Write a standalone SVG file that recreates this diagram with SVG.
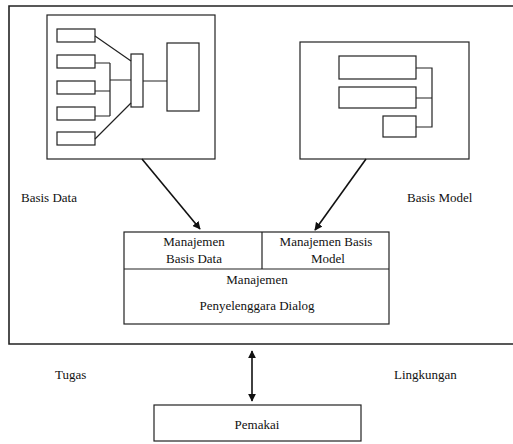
<svg xmlns="http://www.w3.org/2000/svg" width="513" height="444" viewBox="0 0 513 444">
  <style>
    .box { fill: #fff; stroke: #222; stroke-width: 1.2; }
    .ln { fill: none; stroke: #222; stroke-width: 1.2; }
    .frame { fill: none; stroke: #222; stroke-width: 1.6; }
    text { font-family: Liberation Serif, Tinos, Times New Roman, Times, serif; font-size: 13px; fill: #111; }
    .mid { text-anchor: middle; }
    .conn { fill: none; stroke: #111; stroke-width: 1.6; }
  </style>
  <defs>
    <marker id="arrow" viewBox="0 0 10 10" refX="9" refY="5" markerWidth="5" markerHeight="5" orient="auto-start-reverse" markerUnits="strokeWidth">
      <path d="M0,0 L10,5 L0,10 z" fill="#111"/>
    </marker>
  </defs>
  <rect width="513" height="444" fill="#fff"/>

  <!-- outer system frame (open to the right) -->
  <path class="frame" d="M513,6 H9 V344 H513"/>

  <!-- database component -->
  <g id="basis-data">
    <rect class="box" x="47" y="15" width="168" height="144"/>
    <rect class="box" x="57" y="29" width="38" height="13"/>
    <rect class="box" x="57" y="55" width="38" height="13"/>
    <rect class="box" x="57" y="81" width="38" height="13"/>
    <rect class="box" x="57" y="107" width="38" height="13"/>
    <rect class="box" x="57" y="132" width="38" height="13"/>
    <rect class="box" x="131" y="54" width="12" height="53"/>
    <rect class="box" x="167" y="43" width="32" height="68"/>
    <path class="ln" d="M95,36 L131,61 M95,139 L131,103 M95,63 H110 M95,91 H110 M95,116 H110 M110,63 V116 M110,80 H131 M143,81 H167"/>
    <text x="21" y="202" font-family="Liberation Serif, serif">Basis Data</text>
  </g>

  <!-- model component -->
  <g id="basis-model">
    <rect class="box" x="300" y="42" width="169" height="117"/>
    <rect class="box" x="339" y="56" width="77" height="23"/>
    <rect class="box" x="339" y="87" width="77" height="21"/>
    <rect class="box" x="383" y="116" width="33" height="21"/>
    <path class="ln" d="M416,68 H432 V127 H416 M416,98 H432"/>
    <text x="407" y="202">Basis Model</text>
  </g>

  <!-- management / dialog block -->
  <g id="manajemen">
    <rect class="box" x="124" y="232" width="265" height="92"/>
    <path class="ln" d="M124,269 H389 M262,232 V269"/>
    <text class="mid" x="194" y="246">Manajemen</text>
    <text class="mid" x="194" y="263">Basis Data</text>
    <text class="mid" x="326" y="246">Manajemen Basis</text>
    <text class="mid" x="328" y="263">Model</text>
    <text class="mid" x="257" y="284">Manajemen</text>
    <text class="mid" x="257" y="310">Penyelenggara Dialog</text>
  </g>

  <!-- user -->
  <g id="pemakai">
    <rect class="box" x="154" y="405" width="207" height="36"/>
    <text class="mid" x="257" y="429">Pemakai</text>
  </g>

  <g id="tugas">
    <text x="55" y="379">Tugas</text>
  </g>
  <g id="lingkungan">
    <text x="394" y="379">Lingkungan</text>
  </g>

  <!-- connectors -->
  <g id="connectors">
    <line class="conn" x1="142" y1="159" x2="200" y2="229" marker-end="url(#arrow)"/>
    <line class="conn" x1="366" y1="159" x2="315" y2="230" marker-end="url(#arrow)"/>
    <line class="conn" x1="252" y1="351" x2="252" y2="401" marker-start="url(#arrow)" marker-end="url(#arrow)"/>
  </g>
</svg>
